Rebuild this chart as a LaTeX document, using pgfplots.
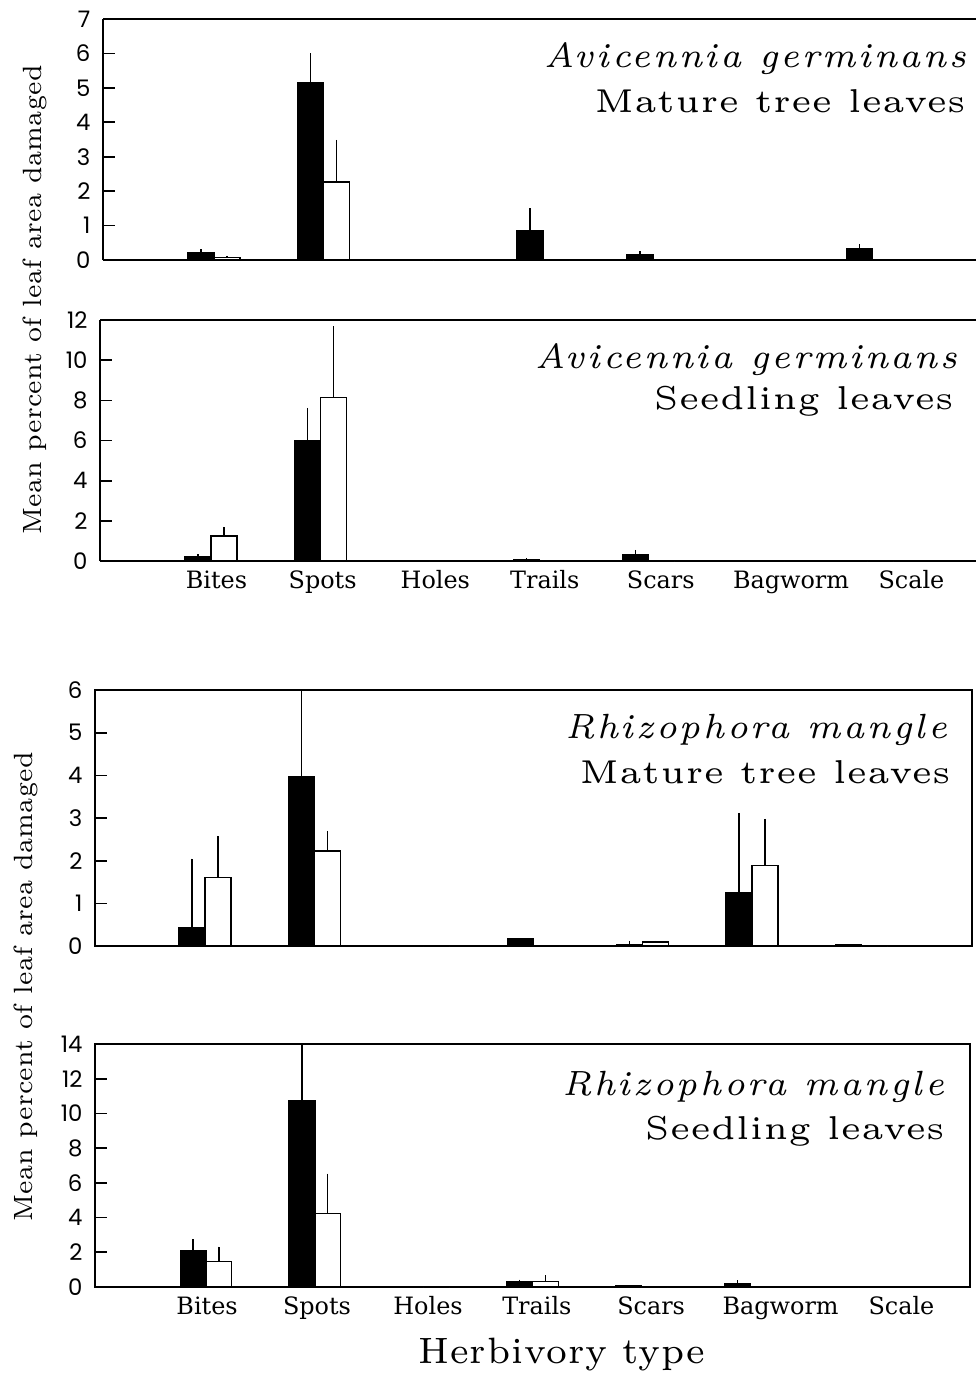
\documentclass[border=0pt]{standalone}
\usepackage{pgfplots}
\pgfplotsset{compat=1.18}
\usepackage{pgfplotstable}
\usepackage{fontspec}
\newfontfamily\catfont{DejaVu Serif}
\newfontfamily\tickfont{Poppins}
\newfontfamily\ttlrm{lmroman5-regular.otf}[LetterSpace=1]
\newfontfamily\ttlit{lmroman7-italic.otf}[LetterSpace=7.5]
\newfontfamily\ylabfont{lmroman7-regular.otf}[LetterSpace=1]
\newfontfamily\xlabfont{lmroman7-regular.otf}[LetterSpace=2.7]

\pgfplotstableread{
x b be w we
0 0.20 0.11 0.08 0.04
1 5.15 0.85 2.27 1.22
2 0.00 0.00 0.00 0.00
3 0.85 0.65 0.00 0.00
4 0.14 0.12 0.02 0.00
5 0.02 0.00 0.01 0.00
6 0.32 0.14 0.00 0.00
}\dataA
\pgfplotstableread{
x b be w we
0 0.20 0.13 1.24 0.46
1 6.00 1.62 8.13 3.57
2 0.00 0.00 0.00 0.00
3 0.08 0.06 0.02 0.00
4 0.30 0.25 0.00 0.00
5 0.00 0.00 0.00 0.00
6 0.00 0.00 0.00 0.00
}\dataB
\pgfplotstableread{
x b be w we
0 0.44 1.61 1.60 0.98
1 3.97 2.03 2.23 0.47
2 0.00 0.00 0.00 0.00
3 0.16 0.00 0.00 0.00
4 0.03 0.09 0.09 0.03
5 1.25 1.87 1.88 1.10
6 0.04 0.00 0.00 0.00
}\dataC
\pgfplotstableread{
x b be w we
0 2.07 0.69 1.46 0.86
1 10.73 3.27 4.23 2.30
2 0.00 0.00 0.00 0.00
3 0.33 0.10 0.33 0.35
4 0.06 0.02 0.00 0.00
5 0.20 0.18 0.00 0.00
6 0.00 0.00 0.00 0.00
}\dataD

\pgfplotsset{
  panel/.style={
    scale only axis, anchor=south west,
    ybar, bar width=0.237, ymin=0,
    axis line style={line width=0.8pt},
    tick align=inside, ytick pos=left,
    major tick length=4.3pt,
    ytick style={line width=0.6pt, black},
    xtick style={draw=none},
    /pgf/number format/assume math mode=true,
    yticklabel style={font=\tickfont\fontsize{8.2}{9}\selectfont, xshift=-1pt},
    xticklabel style={font=\catfont\fontsize{8.6}{10}\selectfont},
    xticklabels={Bites,Spots,Holes,Trails,Scars,Bagworm,Scale},
    clip=false,
  },
  blk/.style={fill=black, draw=black, line width=0.5pt, bar shift=-0.1185,
    error bars/.cd, y dir=plus, y explicit, error mark=none,
    error bar style={line width=0.5pt, black}},
  wht/.style={fill=white, draw=black, line width=0.5pt, bar shift=0.1185,
    error bars/.cd, y dir=plus, y explicit, error mark=none,
    error bar style={line width=0.5pt, black}},
}

\begin{document}
\begin{tikzpicture}
\path (0,0) rectangle (351.36pt,-495.36pt);

% Panel 1
\begin{axis}[panel, at={(37.08pt,-93.6pt)}, width=314.28pt, height=86.76pt,
  xmin=-1.012, xmax=6.946, ymax=7, ytick={0,...,7}, xtick=\empty,
  axis y line*=left]
\addplot[blk] table[x=x,y=b,y error=be]{\dataA};
\addplot[wht] table[x=x,y=w,y error=we]{\dataA};
\end{axis}

% Panel 2
\begin{axis}[panel, at={(36pt,-201.96pt)}, width=315.36pt, height=86.76pt,
  xmin=-1.014, xmax=6.99, ymax=12, ytick={0,2,...,12},
  xtick={0.05,1.02,2.05,3.05,4.11,5.30,6.40},
  axis y line*=left]
\addplot[blk] table[x=x,y=b,y error=be]{\dataB};
\addplot[wht] table[x=x,y=w,y error=we]{\dataB};
\end{axis}

% Panel 3
\begin{axis}[panel, at={(34.2pt,-340.56pt)}, width=315.72pt, height=92.16pt,
  xmin=-1.005, xmax=7.01, ymax=6, ytick={0,...,6}, xtick=\empty]
\addplot[blk] table[x=x,y=b,y error=be]{\dataC};
\addplot[wht] table[x=x,y=w,y error=we]{\dataC};
\end{axis}

% Panel 4
\begin{axis}[panel, at={(34.2pt,-463.32pt)}, width=315pt, height=87.48pt,
  xmin=-1.02, xmax=7.02, ymax=14, ytick={0,2,...,14},
  xtick={0.01,1.02,2.04,3.04,4.09,5.28,6.39}]
\addplot[blk] table[x=x,y=b,y error=be]{\dataD};
\addplot[wht] table[x=x,y=w,y error=we]{\dataD};
\end{axis}

% titles
\newcommand{\spfont}{\ttlit\fontsize{12.6}{14}\selectfont}
\newcommand{\stfont}{\ttlrm\fontsize{11.9}{14}\selectfont}
\node[anchor=base east, inner sep=0pt] at (348.12pt,-24.12pt) {\spfont Avicennia germinans};
\node[anchor=base east, inner sep=0pt] at (347.76pt,-40.32pt) {\stfont Mature tree leaves};
\node[anchor=base east, inner sep=0pt] at (344.88pt,-132.48pt) {\spfont Avicennia germinans};
\node[anchor=base east, inner sep=0pt] at (343.44pt,-147.24pt) {\stfont Seedling leaves};
\node[anchor=base east, inner sep=0pt] at (341.28pt,-265.68pt) {\spfont Rhizophora mangle};
\node[anchor=base east, inner sep=0pt] at (342.36pt,-281.88pt) {\stfont Mature tree leaves};
\node[anchor=base east, inner sep=0pt] at (340.2pt,-394.2pt) {\spfont Rhizophora mangle};
\node[anchor=base east, inner sep=0pt] at (340.2pt,-410.04pt) {\stfont Seedling leaves};

% y labels
\node[rotate=90, anchor=base, inner sep=0pt] at (14.76pt,-108pt) {\ylabfont\fontsize{9.5}{11}\selectfont Mean percent of leaf area damaged};
\node[rotate=90, anchor=base, inner sep=0pt] at (11.52pt,-355.32pt) {\ylabfont\fontsize{9.5}{11}\selectfont Mean percent of leaf area damaged};

% x label
\node[anchor=base, inner sep=0pt] at (202.32pt,-490.68pt) {\xlabfont\fontsize{13.2}{15}\selectfont Herbivory type};

\pgfresetboundingbox
\path[use as bounding box] (0,0) rectangle (351.36pt,-495.36pt);
\end{tikzpicture}
\end{document}
